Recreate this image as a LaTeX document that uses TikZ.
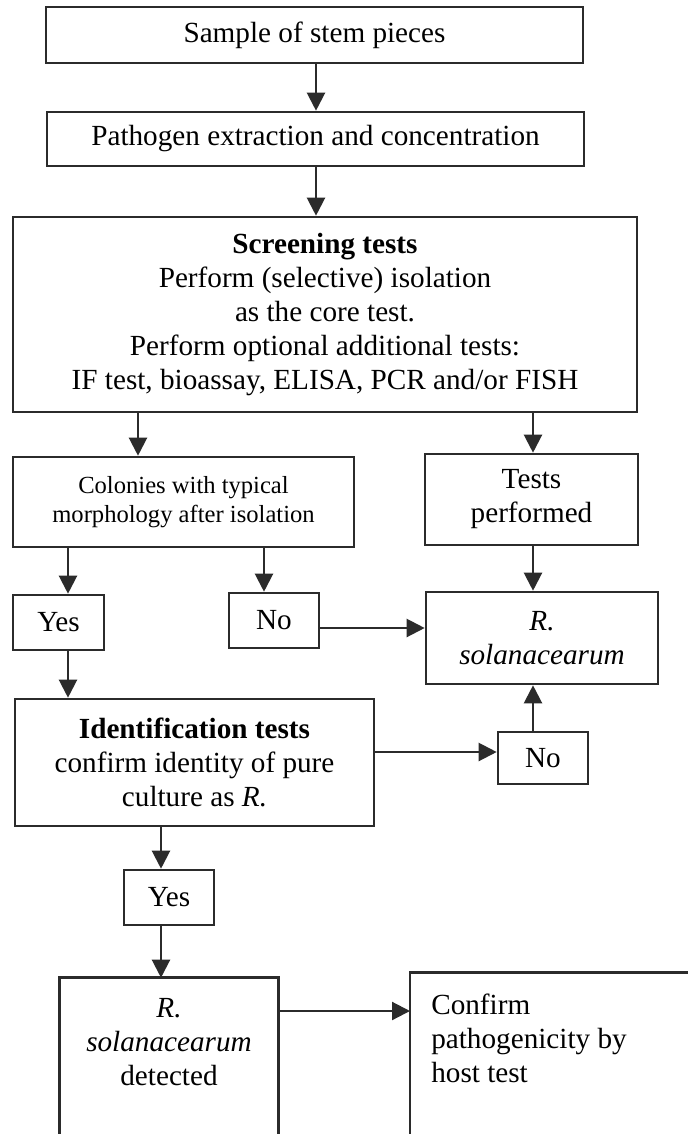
\documentclass[tikz,border=0pt]{standalone}
\usepackage{fontspec}
\setmainfont{Liberation Serif}
\usetikzlibrary{arrows.meta, positioning, calc}
\definecolor{inkgray}{HTML}{2B2B2B}

\begin{document}
\begin{tikzpicture}[x=0.5pt, y=-0.5pt,
    boxline/.style={draw=inkgray, line width=1.3pt},
    box/.style={boxline, inner sep=0pt, align=center, font={\fontsize{14.6}{17}\selectfont}},
    smallbox/.style={box, font={\fontsize{12.3}{14.5}\selectfont}},
    arr/.style={draw=inkgray, line width=1.1pt, -{Triangle[length=9pt, width=9pt]}}]
    \def\u{0.5pt}
    % Page
    \useasboundingbox (0,0) rectangle (688,1134);
    \fill[white] (0,0) rectangle (688,1134);
    \clip (0,0) rectangle (688,1134);
    % Boxes
    \node[box, minimum width=537*\u, minimum height=56*\u] (sample) at (314.5,35) {Sample of stem pieces};
    \node[box, minimum width=537*\u, minimum height=54*\u] (pathogen) at (315.5,139) {Pathogen extraction and concentration};
    \node[box, minimum width=624*\u, minimum height=195*\u, font={\fontsize{14.6}{16.9}\selectfont}] (screening) at (325,314.5)
        {\textbf{Screening tests}\\Perform (selective) isolation\\as the core test.\\Perform optional additional tests:\\IF test, bioassay, ELISA, PCR and/or FISH};
    \node[smallbox, minimum width=341*\u, minimum height=90*\u] (colonies) at (183.5,502) {Colonies with typical\\morphology after isolation};
    \node[box, minimum width=213*\u, minimum height=91*\u] (tests) at (531.5,499.5) {Tests\\performed};
    \node[box, minimum width=91*\u, minimum height=55*\u] (yesA) at (58.5,622.5) {Yes};
    \node[box, minimum width=90*\u, minimum height=55*\u] (noA) at (274,620.5) {No};
    \node[box, minimum width=232*\u, minimum height=92*\u] (rsol) at (542,638) {\textit{R.}\\\textit{solanacearum}};
    \node[box, minimum width=359*\u, minimum height=127*\u] (ident) at (194.5,762.5)
        {\textbf{Identification tests}\\confirm identity of pure\\culture as \textit{R.}};
    \node[box, minimum width=90*\u, minimum height=52*\u] (noB) at (543,758) {No};
    \node[box, minimum width=90*\u, minimum height=55*\u] (yesB) at (169,897.5) {Yes};
    \node[box, draw=none, minimum width=216*\u, minimum height=126*\u] (detect) at (169,1042)
        {\textit{R.}\\\textit{solanacearum}\\detected};
    \node[box, draw=none, align=left, anchor=west, inner xsep=10pt, minimum height=128*\u] (confirm) at (410,1038)
        {Confirm\\pathogenicity by\\host test};
    % Boxes running off the page
    \draw[boxline] (detect.south west |- 0,1160) -- (detect.north west) -- (detect.north east) -- (detect.south east |- 0,1160);
    \draw[boxline] (confirm.south west |- 0,1160) -- (confirm.north west) -- ++(320,0);
    % Arrow positions
    \coordinate (xtop) at (316,0);
    \coordinate (xscr) at (138,0);
    \coordinate (xyesA) at (68,0);
    \coordinate (xnoA) at (264,0);
    \coordinate (xright) at (533,0);
    \coordinate (xyesB) at (161,0);
    \coordinate (ynoA) at (0,628);
    \coordinate (ynoB) at (0,752);
    \coordinate (ydet) at (0,1011);
    % Arrows
    \draw[arr] (sample.south -| xtop) -- (pathogen.north -| xtop);
    \draw[arr] (pathogen.south -| xtop) -- (screening.north -| xtop);
    \draw[arr] (screening.south -| xscr) -- (colonies.north -| xscr);
    \draw[arr] (screening.south -| xright) -- (tests.north -| xright);
    \draw[arr] (colonies.south -| xyesA) -- (yesA.north -| xyesA);
    \draw[arr] (colonies.south -| xnoA) -- (noA.north -| xnoA);
    \draw[arr] (noA.east |- ynoA) -- (rsol.west |- ynoA);
    \draw[arr] (tests.south -| xright) -- (rsol.north -| xright);
    \draw[arr] (yesA.south -| xyesA) -- (ident.north -| xyesA);
    \draw[arr] (ident.east |- ynoB) -- (noB.west |- ynoB);
    \draw[arr] (noB.north -| xright) -- (rsol.south -| xright);
    \draw[arr] (ident.south -| xyesB) -- (yesB.north -| xyesB);
    \draw[arr] (yesB.south -| xyesB) -- (detect.north -| xyesB);
    \draw[arr] (detect.east |- ydet) -- (confirm.west |- ydet);
\end{tikzpicture}
\end{document}
